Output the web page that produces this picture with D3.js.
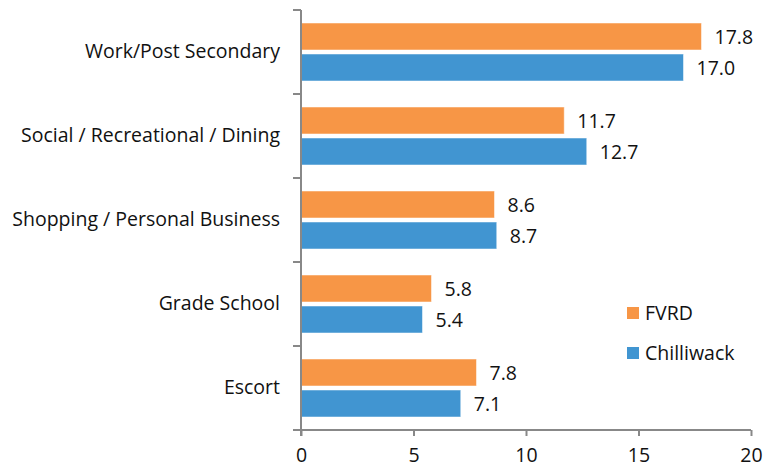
<!DOCTYPE html>
<html>
<head>
<meta charset="utf-8">
<script src="https://cdn.jsdelivr.net/npm/d3@7"></script>
<style>
  body { margin: 0; background: #fff; }
  text { font-family: "Open Sans", sans-serif; fill: #111; }
</style>
</head>
<body>
<svg width="764" height="467"></svg>
<script>
var categories = ['Work/Post Secondary', 'Social / Recreational / Dining', 'Shopping / Personal Business', 'Grade School', 'Escort'];
var fvrd = [17.8, 11.7, 8.6, 5.8, 7.8];
var chilliwack = [17.0, 12.7, 8.7, 5.4, 7.1];
var seriesNames = ['FVRD', 'Chilliwack'];
var xTicks = [0, 5, 10, 15, 20];
var colors = ['#F79646', '#4195D1'];
var fontSize = '19.5px';

var svg = d3.select('svg');

var xScale = d3.scaleLinear().domain([0, 20]).range([301, 751]);
var yScale = d3.scaleBand().domain(categories).range([10, 430]);

// bars
var series = [fvrd, chilliwack];
series.forEach(function(vals, s) {
    var g = svg.append('g');
    g.selectAll('rect')
    .data(categories)
    .enter()
    .append('rect')
    .attr('x', xScale(0))
    .attr('y', function(d) { return yScale(d) + 13 + s * 31; })
    .attr('width', function(d, i) { return xScale(vals[i]) - xScale(0); })
    .attr('height', 27)
    .attr('fill', colors[s])
    .attr('stroke', '#fff')
    .attr('stroke-opacity', 0.5)
    .attr('stroke-width', 1);

    g.selectAll('text')
    .data(categories)
    .enter()
    .append('text')
    .attr('x', function(d, i) { return xScale(vals[i]) + 13; })
    .attr('y', function(d) { return yScale(d) + 13 + s * 31 + 14; })
    .attr('dy', '0.35em')
    .style('font-size', fontSize)
    .text(function(d, i) { return vals[i].toFixed(1); });
});

// axes
var xAxis = d3.axisBottom(xScale).tickValues(xTicks).tickSize(6).tickPadding(12);
var gx = svg.append('g')
    .attr('transform', 'translate(0,430)')
    .call(xAxis);
gx.select('.domain').attr('d', 'M' + (xScale(0) - 8) + ',0H' + xScale(20));
gx.selectAll('.tick text').style('font-size', fontSize).attr('fill', '#111');

var yAxis = d3.axisLeft(yScale).tickSize(0).tickPadding(21);
var gy = svg.append('g')
    .attr('transform', 'translate(301,0)')
    .call(yAxis);
gy.select('.domain').remove();
gy.selectAll('.tick text').style('font-size', fontSize).attr('fill', '#111');

// tick marks between categories
var bounds = categories.map(function(d) { return yScale(d); }).concat([430]);
svg.selectAll('.ytick')
    .data(bounds)
    .enter()
    .append('line')
    .attr('x1', 293).attr('x2', 301)
    .attr('y1', function(d) { return d; })
    .attr('y2', function(d) { return d; })
    .attr('stroke', '#888')
    .attr('stroke-width', 2);
svg.append('line')
    .attr('x1', 301).attr('x2', 301)
    .attr('y1', 10).attr('y2', 436)
    .attr('stroke', '#888')
    .attr('stroke-width', 2);
gx.selectAll('.domain, .tick line').attr('stroke', '#888').attr('stroke-width', 2);

// legend
var legend = svg.append('g');
seriesNames.forEach(function(name, i) {
    legend.append('rect')
    .attr('x', 627).attr('y', 307 + i * 40)
    .attr('width', 12).attr('height', 12)
    .attr('fill', colors[i]);
    legend.append('text')
    .attr('x', 645).attr('y', 313 + i * 40)
    .attr('dy', '0.35em')
    .style('font-size', fontSize)
    .text(name);
});
</script>
</body>
</html>
